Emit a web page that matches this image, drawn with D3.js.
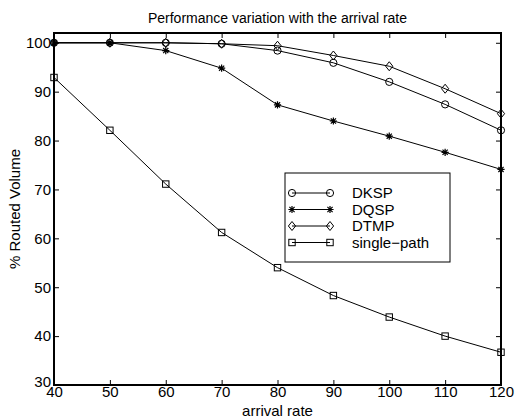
<!DOCTYPE html>
<html>
    <head>
        <meta charset="UTF-8">
        <title>Performance variation with the arrival rate</title>
        <script src="https://cdn.jsdelivr.net/npm/d3@7"></script>
        <style>
            body { margin: 0; background: #fff; }
            text { font-family: "Liberation Sans", Arial, Helvetica, sans-serif; fill: #000; }
        </style>
    </head>
    <body>
        <script>
            // values, one entry per arrival rate
            var rates = [40, 50, 60, 70, 80, 90, 100, 110, 120];
            var dksp = [100, 100, 100, 99.8, 98.4, 95.9, 92.0, 87.4, 82.1];
            var dqsp = [100, 100, 98.4, 94.8, 87.3, 84.0, 80.9, 77.6, 74.1];
            var dtmp = [100, 100, 100, 99.8, 99.4, 97.4, 95.2, 90.6, 85.5];
            var singlePath = [92.9, 82.1, 71.1, 61.2, 54.0, 48.3, 43.9, 40.0, 36.7];
            var seriesNames = ["DKSP", "DQSP", "DTMP", "single\u2212path"];
            var seriesMarkers = ["circle", "star", "diamond", "square"];
            var xTicks = [40, 50, 60, 70, 80, 90, 100, 110, 120];
            var yTicks = [30, 40, 50, 60, 70, 80, 90, 100];

            var allSeries = [dksp, dqsp, dtmp, singlePath];

            var width = 516, height = 420;
            var margin = {left: 54, right: 15, top: 33, bottom: 35};

            var svg = d3.select("body").append("svg")
                    .attr("width", width)
                    .attr("height", height);

            var x = d3.scaleLinear().domain([40, 120]).range([margin.left, width - margin.right]);
            var y = d3.scaleLinear().domain([30, 102]).range([height - margin.bottom, margin.top]);

            // ticks point inward, on all four sides
            var tickLen = 5;
            var xAxisB = d3.axisBottom(x).tickValues(xTicks).tickSizeInner(-tickLen).tickSizeOuter(0).tickPadding(1);
            var xAxisT = d3.axisTop(x).tickValues(xTicks).tickSizeInner(-tickLen).tickSizeOuter(0).tickFormat("");
            var yAxisL = d3.axisLeft(y).tickValues(yTicks).tickSizeInner(-tickLen).tickSizeOuter(0).tickPadding(3);
            var yAxisR = d3.axisRight(y).tickValues(yTicks).tickSizeInner(-tickLen).tickSizeOuter(0).tickFormat("");

            function styleAxis(g) {
                g.select(".domain").remove();
                g.selectAll(".tick line").attr("stroke", "#000").attr("stroke-width", 1);
                g.selectAll(".tick text").style("font-size", "15px").attr("fill", "#000");
            }

            svg.append("g").attr("transform", "translate(0," + y(30) + ")").call(xAxisB).call(styleAxis);
            svg.append("g").attr("transform", "translate(0," + y(102) + ")").call(xAxisT).call(styleAxis);
            svg.append("g").attr("transform", "translate(" + x(40) + ",0)").call(yAxisL).call(styleAxis)
                    // the lowest label sits a little higher so it clears the "40" below it
                    .selectAll(".tick text").filter(function (d) { return d === 30; }).attr("dy", "0.1em");
            svg.append("g").attr("transform", "translate(" + x(120) + ",0)").call(yAxisR).call(styleAxis);

            // axes box
            svg.append("rect")
                    .attr("x", x(40))
                    .attr("y", y(102))
                    .attr("width", x(120) - x(40))
                    .attr("height", y(30) - y(102))
                    .attr("fill", "none")
                    .attr("stroke", "#000")
                    .attr("stroke-width", 2);

            // marker drawing, MATLAB style open symbols
            function drawMarker(g, kind, cx, cy) {
                if (kind === "circle") {
                    g.append("circle").attr("cx", cx).attr("cy", cy).attr("r", 3.6)
                            .attr("fill", "none").attr("stroke", "#000").attr("stroke-width", 1);
                } else if (kind === "diamond") {
                    var s = 4.5;
                    g.append("path")
                            .attr("d", "M" + cx + "," + (cy - s) + "L" + (cx + s * 0.8) + "," + cy + "L" + cx + "," + (cy + s) + "L" + (cx - s * 0.8) + "," + cy + "Z")
                            .attr("fill", "none").attr("stroke", "#000").attr("stroke-width", 1);
                } else if (kind === "square") {
                    var h = 3.2;
                    g.append("rect").attr("x", cx - h).attr("y", cy - h).attr("width", 2 * h).attr("height", 2 * h)
                            .attr("fill", "none").attr("stroke", "#000").attr("stroke-width", 1);
                } else if (kind === "star") {
                    var r = 3.6, d = r * 0.72;
                    g.append("path")
                            .attr("d", "M" + (cx - r) + "," + cy + "L" + (cx + r) + "," + cy
                                    + "M" + cx + "," + (cy - r) + "L" + cx + "," + (cy + r)
                                    + "M" + (cx - d) + "," + (cy - d) + "L" + (cx + d) + "," + (cy + d)
                                    + "M" + (cx - d) + "," + (cy + d) + "L" + (cx + d) + "," + (cy - d))
                            .attr("stroke", "#000").attr("stroke-width", 1.2);
                }
            }

            var line = d3.line()
                    .x(function (d, i) { return x(rates[i]); })
                    .y(function (d) { return y(d); });

            allSeries.forEach(function (vals, k) {
                var g = svg.append("g");
                g.append("path")
                        .attr("d", line(vals))
                        .attr("fill", "none")
                        .attr("stroke", "#000")
                        .attr("stroke-width", 1);
                vals.forEach(function (v, i) {
                    drawMarker(g, seriesMarkers[k], x(rates[i]), y(v));
                });
            });

            // legend
            var leg = svg.append("g").attr("transform", "translate(285,173)");
            leg.append("rect")
                    .attr("width", 165)
                    .attr("height", 89)
                    .attr("fill", "#fff")
                    .attr("stroke", "#000")
                    .attr("stroke-width", 1);
            seriesNames.forEach(function (name, k) {
                var ly = 20 + k * 16.5;
                leg.append("line")
                        .attr("x1", 7).attr("x2", 45)
                        .attr("y1", ly).attr("y2", ly)
                        .attr("stroke", "#000").attr("stroke-width", 1);
                drawMarker(leg, seriesMarkers[k], 7, ly);
                drawMarker(leg, seriesMarkers[k], 45, ly);
                leg.append("text")
                        .attr("x", 67)
                        .attr("y", ly)
                        .attr("dy", "0.35em")
                        .style("font-size", "15px")
                        .text(name);
            });

            // title and axis labels
            var midX = (x(40) + x(120)) / 2;
            svg.append("text")
                    .attr("x", midX)
                    .attr("y", 23)
                    .attr("text-anchor", "middle")
                    .style("font-size", "14px")
                    .text("Performance variation with the arrival rate");

            svg.append("text")
                    .attr("x", midX)
                    .attr("y", 416)
                    .attr("text-anchor", "middle")
                    .style("font-size", "15px")
                    .text("arrival rate");

            svg.append("text")
                    .attr("transform", "translate(20," + ((y(30) + y(102)) / 2) + ") rotate(-90)")
                    .attr("text-anchor", "middle")
                    .style("font-size", "15px")
                    .text("% Routed Volume");
        </script>
    </body>
</html>
